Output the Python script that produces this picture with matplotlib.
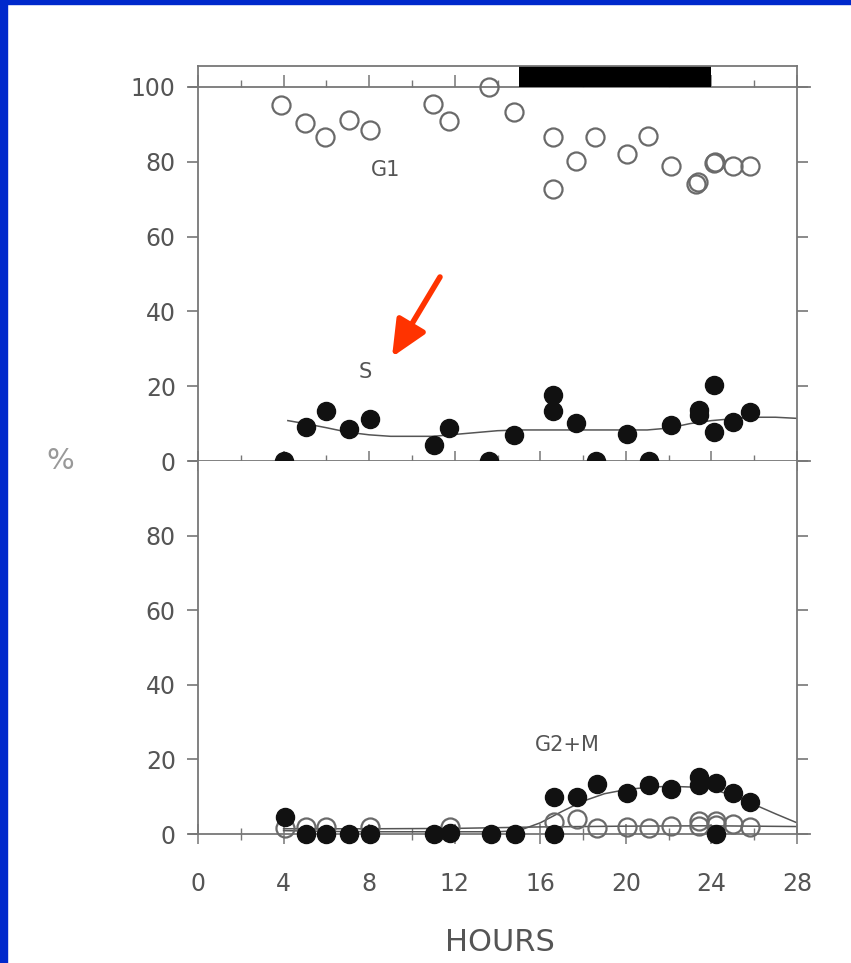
import matplotlib
matplotlib.use("Agg")
import matplotlib.pyplot as plt
from matplotlib.patches import Rectangle
from matplotlib.ticker import MultipleLocator

# ---------------- data ----------------
g1_hours = [3.9, 5.0, 5.95, 7.05, 8.05, 11.0, 11.75, 13.6, 14.75, 16.6, 16.6, 17.65,
            18.55, 20.05, 21.05, 22.1, 23.3, 23.35, 24.1, 24.15, 25.0, 25.8]
g1_pct = [95.2, 90.5, 86.5, 91.2, 88.6, 95.5, 91.0, 100.0, 93.4, 86.5, 72.7, 80.2,
          86.7, 82.0, 86.9, 78.9, 74.0, 74.6, 79.6, 80.0, 78.9, 78.9]

s_hours = [4.0, 5.05, 6.0, 7.05, 8.05, 11.05, 11.75, 13.6, 14.75, 16.6, 16.6, 17.65,
           18.6, 20.05, 21.1, 22.1, 23.4, 23.4, 24.1, 24.1, 25.0, 25.8]
s_pct = [0, 9.0, 13.3, 8.5, 11.1, 4.4, 8.8, 0, 6.9, 17.6, 13.5, 10.1,
         0, 7.1, 0, 9.5, 13.6, 12.2, 20.3, 7.8, 10.4, 13.1]

s_fit_hours = [4.2, 5, 6, 7, 8, 9, 10, 11, 12, 13, 14, 15, 16, 17, 18, 19, 20, 21,
               22, 23, 24, 25, 26, 27, 28]
s_fit_pct = [10.8, 10.0, 8.9, 7.7, 7.0, 6.6, 6.6, 6.6, 7.1, 7.6, 8.1, 8.3, 8.3, 8.3,
             8.3, 8.3, 8.3, 8.3, 8.8, 10.0, 10.8, 11.3, 11.7, 11.7, 11.4]

g2m_hours = [4.05, 5.05, 6.0, 7.05, 8.05, 11.05, 11.8, 13.7, 14.8, 16.65, 16.65, 17.7,
             18.65, 20.05, 21.1, 22.1, 23.4, 23.4, 24.2, 24.2, 25.0, 25.8]
g2m_pct = [4.5, 0, 0, 0, 0, 0, 0.2, 0.1, 0, 9.8, 0, 9.9,
           13.5, 11.1, 13.2, 12.0, 15.2, 13.1, 13.8, 0, 11.0, 8.6]

g2m_fit_hours = [4, 6, 8, 10, 12, 14, 15, 16, 17, 18, 19, 20, 21, 22, 23, 24, 25,
                 26, 27, 28]
g2m_fit_pct = [0.9, 0.7, 0.6, 0.6, 0.6, 0.6, 0.9, 3.0, 6.0, 8.8, 10.8, 11.9, 12.5,
               12.8, 12.6, 12.1, 10.3, 7.9, 5.4, 3.0]

g2m_open_hours = [4.05, 5.05, 6.0, 8.05, 11.8, 16.65, 17.7, 18.65, 20.05, 21.1,
                  22.1, 23.4, 23.4, 24.2, 24.2, 25.0, 25.8]
g2m_open_pct = [1.5, 1.8, 2.0, 1.8, 2.0, 3.1, 4.0, 1.6, 2.0, 1.6, 2.2, 3.6, 2.2,
                3.6, 2.5, 2.7, 1.8]

g2m_open_fit_hours = [4, 8, 12, 16, 20, 24, 28]
g2m_open_fit_pct = [1.4, 1.4, 1.5, 1.9, 2.1, 2.2, 2.0]

dark_period = (15, 24)
x_ticks = [0, 4, 8, 12, 16, 20, 24, 28]
top_yticks = [0, 20, 40, 60, 80, 100]
bot_yticks = [0, 20, 40, 60, 80]

# ---------------- styling ----------------
W, H = 851, 963
fig = plt.figure(figsize=(W / 100, H / 100), dpi=100)
fig.patch.set_facecolor("white")

gray = "#555555"
lgray = "#777777"
font = "DejaVu Sans"

left = 198 / W
right = 797 / W
ax_top = fig.add_axes([left, 1 - 461 / H, right - left, (461 - 66) / H])
ax_bot = fig.add_axes([left, 1 - 834 / H, right - left, (834 - 461) / H])

top_ymax = 100 * (461 - 66) / (461 - 87)

for ax in (ax_top, ax_bot):
    ax.set_xlim(0, 28)
    for sp in ax.spines.values():
        sp.set_color(lgray)
        sp.set_linewidth(1.3)
    ax.spines["bottom"].set_visible(False)
    ax.tick_params(axis="y", which="major", direction="out", length=8, width=1.2,
                   color=lgray, labelcolor=gray, labelsize=17, pad=8, right=True)
    ax.tick_params(axis="y", which="major", right=True, labelright=False)
    ax.xaxis.set_major_locator(MultipleLocator(4))
    ax.xaxis.set_minor_locator(MultipleLocator(2))
    ax.tick_params(axis="x", which="major", direction="inout", length=14, width=1.1,
                   color=lgray)
    ax.tick_params(axis="x", which="minor", direction="inout", length=9, width=1.0,
                   color=lgray)
    # extended zero line
    xl = ax.get_xlim()
    ax.plot([xl[0] - 0.4, xl[1] + 0.6], [0, 0], color=lgray, lw=1.3,
            clip_on=False, zorder=1)
    for lab in ax.get_yticklabels():
        lab.set_fontfamily(font)

ax_top.set_ylim(0, top_ymax)
ax_top.set_yticks(top_yticks)
ax_top.tick_params(axis="x", labelbottom=False)

ax_bot.set_ylim(0, 100)
ax_bot.set_yticks(bot_yticks)
ax_bot.spines["top"].set_visible(False)
ax_bot.set_xticks(x_ticks)
ax_bot.tick_params(axis="x", which="major", labelsize=17, labelcolor=gray, pad=20)

# top 100 line + dark bar
xl = ax_top.get_xlim()
ax_top.plot([xl[0] - 0.4, xl[1] + 0.6], [100, 100], color=lgray, lw=1.3,
            clip_on=False, zorder=1)
ax_top.fill_between(list(dark_period), 100, top_ymax, color="black", lw=0, zorder=2)
sec = ax_top.secondary_xaxis(100 / top_ymax)
sec.spines["top"].set_visible(False)
sec.spines["bottom"].set_visible(False)
sec.xaxis.set_major_locator(MultipleLocator(4))
sec.xaxis.set_minor_locator(MultipleLocator(2))
sec.tick_params(axis="x", which="major", direction="out", length=9, width=1.1,
                color=lgray, labeltop=False, labelbottom=False, top=True, bottom=False)
sec.tick_params(axis="x", which="minor", direction="out", length=5, width=1.0,
                color=lgray, top=True, bottom=False)

# ---------------- data marks ----------------
ms = 13
ax_top.plot(g1_hours, g1_pct, ls="none", marker="o", ms=ms, mfc="none",
            mec="#6a6a6a", mew=1.6, zorder=3, clip_on=False)
ax_top.plot(s_fit_hours, s_fit_pct, color=gray, lw=1.1, zorder=2)
ax_top.plot(s_hours, s_pct, ls="none", marker="o", ms=ms, mfc="#111111",
            mec="#111111", zorder=4, clip_on=False)

ax_bot.plot(g2m_fit_hours, g2m_fit_pct, color=gray, lw=1.1, zorder=2)
ax_bot.plot(g2m_open_fit_hours, g2m_open_fit_pct, color=gray, lw=1.1, zorder=2)
ax_bot.plot(g2m_open_hours, g2m_open_pct, ls="none", marker="o", ms=ms, mfc="none",
            mec="#6a6a6a", mew=1.6, zorder=3, clip_on=False)
ax_bot.plot(g2m_hours, g2m_pct, ls="none", marker="o", ms=ms, mfc="#111111",
            mec="#111111", zorder=4, clip_on=False)

# ---------------- labels ----------------
ax_top.text(8.75, 77.8, "G1", ha="center", va="center", fontsize=15, color=gray,
            family=font)
ax_top.text(7.8, 23.8, "S", ha="center", va="center", fontsize=15, color=gray,
            family=font)
ax_bot.text(17.25, 23.8, "G2+M", ha="center", va="center", fontsize=15, color=gray,
            family=font)

fig.text(60 / W, 1 - 461 / H, "%", ha="center", va="center", fontsize=21,
         color="#999999", family=font)
fig.text(500 / W, 1 - 942 / H, "HOURS", ha="center", va="center", fontsize=22,
         color=gray, family=font)

# red arrow
fig.add_artist(matplotlib.text.Annotation(
    "", xy=(392, H - 357), xytext=(440, H - 277),
    xycoords="figure pixels", textcoords="figure pixels",
    arrowprops=dict(arrowstyle="-|>,head_length=0.55,head_width=0.25",
                    color="#ff3300", lw=4.0, mutation_scale=40,
                    shrinkA=0, shrinkB=0)))

# blue frame
blue = "#0029cc"
fig.patches.append(Rectangle((0, 0), 7 / W, 1, transform=fig.transFigure,
                             color=blue, zorder=10))
fig.patches.append(Rectangle((0, 1 - 4 / H), 1, 4 / H, transform=fig.transFigure,
                             color=blue, zorder=10))

fig.savefig("out.png", dpi=100, facecolor="white")
